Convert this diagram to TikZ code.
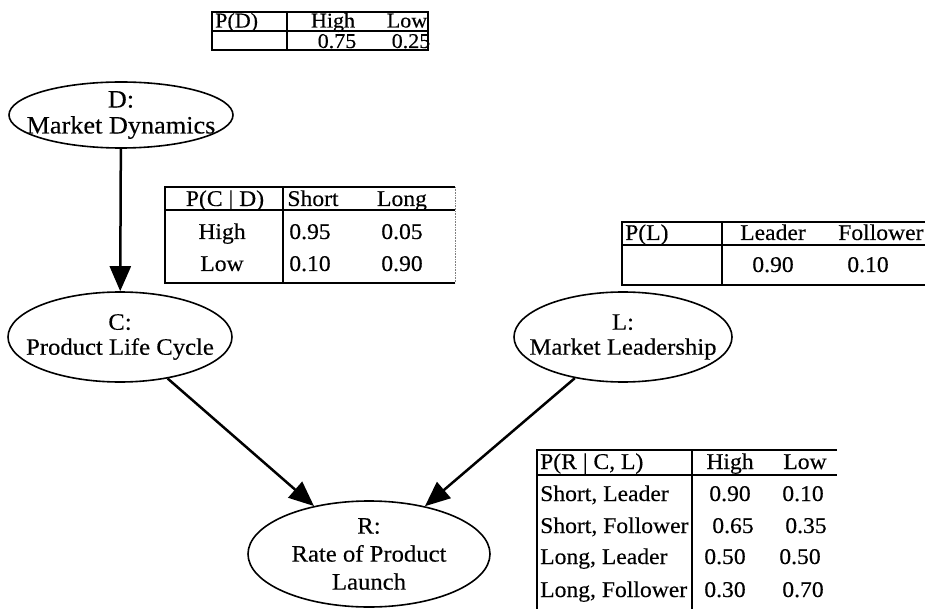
\documentclass[tikz,border=0pt]{standalone}
\usepackage{fontspec}
\setmainfont{Liberation Serif}[FakeStretch=1.05,FakeBold=0.3]
\usetikzlibrary{shapes.geometric,arrows.meta}
\begin{document}
\begin{tikzpicture}[x=1pt,y=-1pt,
  var/.style={ellipse, draw, line width=1.6pt, inner sep=0pt},
  vtext/.style={align=center, inner sep=0pt, font=\fontsize{23.5}{25}\selectfont},
  cell/.style={inner sep=0pt, font=\fontsize{22.5}{24}\selectfont, anchor=base},
  lcell/.style={cell, anchor=base west},
  scell/.style={cell, font=\fontsize{21}{23}\selectfont},
  rule/.style={line width=1.5pt},
  edge/.style={line width=2.5pt, -{Triangle[length=25pt,width=21pt]}}
]
\useasboundingbox (0,0) rectangle (925,609);

% nodes
\node[var, minimum width=224, minimum height=66] (D) at (121,115) {};
\node[vtext, font=\fontsize{25}{26}\selectfont] (Dt) at (D.center) {D:\\Market Dynamics};
\node[var, minimum width=224, minimum height=90] (C) at (120,337) {};
\node[vtext] (Ct) at (C.center) {C:\\Product Life Cycle};
\node[var, minimum width=218, minimum height=90] (L) at (623,337) {};
\node[vtext] (Lt) at (L.center) {L:\\Market Leadership};
\node[var, minimum width=242, minimum height=106] (R) at (369,554) {};
\node[vtext, font=\fontsize{23.5}{28}\selectfont] (Rt) at (R.center) {R:\\Rate of Product\\Launch};

\draw[edge] (D) -- (C);
\draw[edge] (C) -- (R);
\draw[edge] (L) -- (R);

% table P(D)
\draw[rule] (212,12) rectangle (428,50);
\draw[rule] (287,12) -- (287,50);
\draw[rule] (212,31) -- (428,31);
\node[scell, anchor=base west] (pdh) at (215,27.5) {P(D)};
\node[scell] (pdhi) at (333,27.5) {High};
\node[scell] (pdlo) at (407,27.5) {Low};
\node[scell] (pdv1) at (337,48) {0.75};
\node[scell] (pdv2) at (411,48) {0.25};

% table P(C|D)
\draw[rule] (455,187) -- (165,187) -- (165,283) -- (455,283);
\draw[line width=0.6pt, gray, densely dotted] (455,187) -- (455,283);
\draw[rule] (283,187) -- (283,283);
\draw[rule] (165,210) -- (455,210);
\node[cell] (pch) at (225,206) {P(C | D)};
\node[cell] (pcs) at (313,206) {Short};
\node[cell] (pcl) at (402,206) {Long};
\node[cell] (pcr1) at (222,239) {High};
\node[cell] (pc11) at (310,239) {0.95};
\node[cell] (pc12) at (402,239) {0.05};
\node[cell] (pcr2) at (222,271) {Low};
\node[cell] (pc21) at (310,271) {0.10};
\node[cell] (pc22) at (402,271) {0.90};

% table P(L)
\draw[rule] (925,222) -- (622,222) -- (622,285) -- (925,285);
\draw[rule] (722,222) -- (722,285);
\draw[rule] (622,245) -- (925,245);
\node[lcell] (plh) at (625,240) {P(L)};
\node[cell] (pll) at (773,240) {Leader};
\node[lcell] (plf) at (838,240) {Follower};
\node[cell] (plv1) at (773,272) {0.90};
\node[cell] (plv2) at (868,272) {0.10};

% table P(R|C,L)
\draw[rule] (837,450) -- (537,450) -- (537,609);
\draw[rule] (692,450) -- (692,609);
\draw[rule] (537,475) -- (837,475);
\node[lcell] (prh) at (540,469) {P(R | C, L)};
\node[cell] (prhi) at (730,469) {High};
\node[cell] (prlo) at (805,469) {Low};
\node[lcell] (pr1) at (540,501) {Short, Leader};
\node[cell] (pr11) at (730,501) {0.90};
\node[cell] (pr12) at (803,501) {0.10};
\node[lcell] (pr2) at (540,533) {Short, Follower};
\node[cell] (pr21) at (733,533) {0.65};
\node[cell] (pr22) at (806,533) {0.35};
\node[lcell] (pr3) at (540,564) {Long, Leader};
\node[cell] (pr31) at (725,564) {0.50};
\node[cell] (pr32) at (800,564) {0.50};
\node[lcell] (pr4) at (540,597) {Long, Follower};
\node[cell] (pr41) at (725,597) {0.30};
\node[cell] (pr42) at (803,597) {0.70};
\end{tikzpicture}
\end{document}
